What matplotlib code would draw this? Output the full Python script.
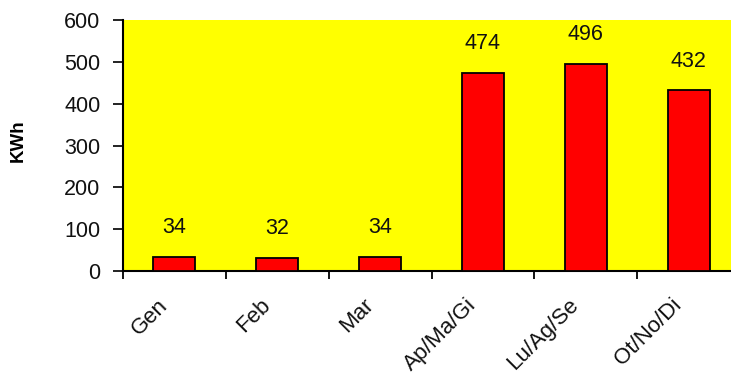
import matplotlib.pyplot as plt
from matplotlib.transforms import ScaledTranslation
import numpy as np

# monthly / seasonal energy use
periods = ["Gen", "Feb", "Mar", "Ap/Ma/Gi", "Lu/Ag/Se", "Ot/No/Di"]
kwh = [34, 32, 34, 474, 496, 432]

plt.rcParams['font.family'] = ['Liberation Sans', 'DejaVu Sans']

fig = plt.figure(figsize=(7.31, 3.80), dpi=100)
# plot area runs a little past the right edge of the figure
ax = fig.add_axes([123 / 731, 1 - 271 / 380, 617 / 731, 251 / 380])
ax.set_facecolor('#ffff00')

x = np.arange(len(periods))
ax.bar(x, kwh, width=0.41, color='#ff0000', edgecolor='black', linewidth=1.3, zorder=3)

for xi, v in zip(x, kwh):
    ax.annotate(str(v), (xi, v), xytext=(0, 21), textcoords='offset points',
                ha='center', va='center', fontsize=15.5, color='#111111')

ax.set_xlim(-0.5, len(periods) - 0.5)
ax.set_ylim(0, 600)
ax.set_yticks(range(0, 601, 100))
ax.tick_params(axis='y', labelsize=15.5, length=7.2, width=1.3, pad=9, colors='#111111')

# boundary ticks between categories
ax.set_xticks(np.arange(-0.5, len(periods), 1.0))
ax.set_xticklabels([])
ax.tick_params(axis='x', length=6, width=1.3, direction='out')

# slanted category names, ending just left of each bar centre
lbl_tr = ax.get_xaxis_transform() + ScaledTranslation(-10 / 100, -31 / 100, fig.dpi_scale_trans)
for xi, name in zip(x, periods):
    ax.text(xi, 0, name, transform=lbl_tr, rotation=45, rotation_mode='anchor',
            ha='right', va='center', fontsize=16, color='#111111')

ax.set_ylabel('KWh', fontsize=13.5, fontweight='bold')
ax.yaxis.set_label_coords((27 - 123) / 617, 0.52)

for side in ['top', 'right']:
    ax.spines[side].set_visible(False)
for side in ['left', 'bottom']:
    ax.spines[side].set_linewidth(1.5)

fig.savefig('out.png', dpi=100)
